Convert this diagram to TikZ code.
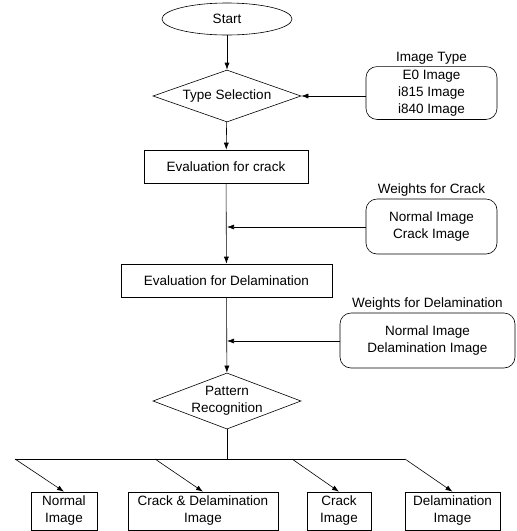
\documentclass[tikz,border=0pt]{standalone}
\usepackage{fontspec}
\setmainfont{Liberation Sans}
\usetikzlibrary{shapes.geometric,arrows.meta}

\tikzset{
  flow/.style={draw,line width=0.6pt,font=\fontsize{13.5}{17}\selectfont,align=center},
  procbox/.style={flow,rectangle,minimum height=33pt},
  choice/.style={flow,diamond,inner sep=0pt,minimum width=148pt},
  weightbox/.style={flow,rectangle,rounded corners=11pt,minimum width=131pt,minimum height=55pt},
  outbox/.style={flow,rectangle,minimum height=38pt,inner sep=1pt},
  toplabel/.style={font=\fontsize{13.5}{17}\selectfont,inner sep=2pt},
  conn/.style={line width=0.6pt},
  arr/.style={conn,-{Latex[length=7pt,width=5pt]}}
}

\begin{document}
\begin{tikzpicture}[x=1pt,y=-1pt]
\useasboundingbox (0,0) rectangle (517,531);

\node[flow,ellipse,minimum width=130pt,minimum height=32pt] (start) at (227,19) {Start};
\node[choice,minimum height=52pt,aspect=2.85] (tsel) at (227,96) {Type Selection};
\node[weightbox,minimum height=50pt,label={[toplabel]above:Image Type}] (itype) at (431.5,93) {E0 Image\\i815 Image\\i840 Image};
\node[procbox,minimum width=164pt] (evcrack) at (226,166.5) {Evaluation for crack};
\node[weightbox,label={[toplabel]above:Weights for Crack}] (wcrack) at (431.5,226.5) {Normal Image\\Crack Image};
\node[procbox,minimum width=211pt] (evdelam) at (226.5,280.5) {Evaluation for Delamination};
\node[weightbox,minimum width=175pt,label={[toplabel]above:Weights for Delamination}] (wdelam) at (427.5,340.5) {Normal Image\\Delamination Image};
\node[choice,minimum height=56pt,aspect=2.64] (prec) at (227,401) {Pattern\\Recognition};

\node[outbox,minimum width=66pt] (onormal) at (64,511) {Normal\\Image};
\node[outbox,minimum width=150pt] (ocd) at (203,511) {Crack \& Delamination\\Image};
\node[outbox,minimum width=64pt] (ocrack) at (339,511) {Crack\\Image};
\node[outbox,minimum width=95pt] (odelam) at (452.5,511) {Delamination\\Image};

\coordinate (jcrack) at (227,227);
\coordinate (jdelam) at (227,341);
\coordinate (bar) at (227,459);
\coordinate (b1) at (15,459);
\coordinate (b2) at (155,459);
\coordinate (b3) at (292,459);
\coordinate (b4) at (405,459);

\draw[arr] (start) -- (tsel);
\draw[arr] (itype.west |- tsel.east) -- (tsel.east);
\draw[arr] (tsel) -- (evcrack);
\draw[arr] (evcrack) -- (evdelam);
\draw[arr] (wcrack.west |- jcrack) -- (jcrack);
\draw[arr] (evdelam) -- (prec);
\draw[arr] (wdelam.west |- jdelam) -- (jdelam);
\draw[conn] (prec.south) -- (bar);
\draw[conn] (b1) -- (b4);
\draw[arr] (b1) -- (onormal.north);
\draw[arr] (b2) -- (ocd.north);
\draw[arr] (b3) -- (ocrack.north);
\draw[arr] (b4) -- (odelam.north);
\end{tikzpicture}
\end{document}
